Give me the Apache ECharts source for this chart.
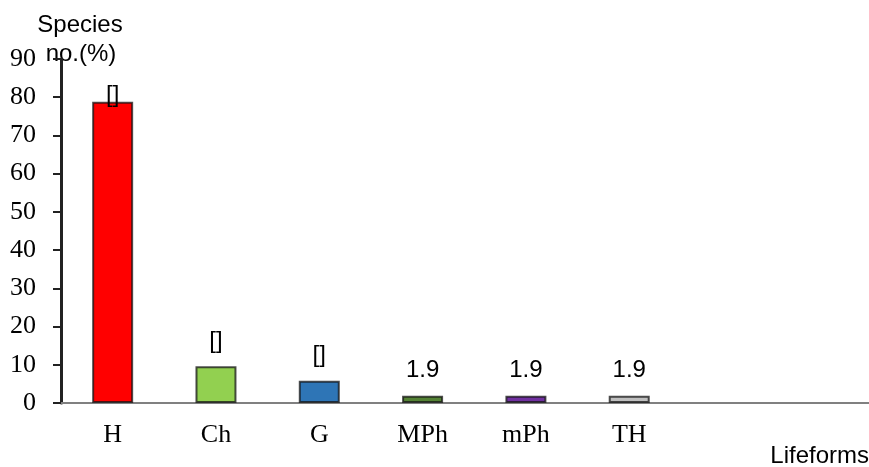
<!DOCTYPE html>
<html>
<head>
<meta charset="utf-8">
<script src="https://cdn.jsdelivr.net/npm/echarts@6/dist/echarts.min.js"></script>
<style>
  html, body { margin: 0; padding: 0; background: #fff; }
  #chart { width: 869px; height: 467px; }
</style>
</head>
<body>
<div id="chart"></div>
<script>
// Life-form spectrum: share of species per Raunkiaer class
const categories = ['H', 'Ch', 'G', 'MPh', 'mPh', 'TH', '', ''];
const shares = [78.8, 9.6, 5.8, 1.9, 1.9, 1.9, null, null];
const barLabels = ['[]', '[]', '[]', '1.9', '1.9', '1.9', '', ''];
const barColors = ['#ff0000', '#92d050', '#2e75b6', '#548235', '#7030a0', '#bfbfbf', '#fff', '#fff'];
const yTicks = [0, 10, 20, 30, 40, 50, 60, 70, 80, 90];

const chart = echarts.init(document.getElementById('chart'));

const seriesData = shares.map((v, i) => {
  const item = {
    value: v,
    itemStyle: { color: barColors[i] },
    label: { formatter: barLabels[i] }
  };
  if (i === 0) item.label.offset = [0, 19];
  return item;
});

const serif = '"Liberation Serif", "Times New Roman", serif';
const sans = '"Liberation Sans", Arial, sans-serif';

chart.setOption({
  animation: false,
  backgroundColor: '#fff',
  grid: { left: 61, top: 59, width: 826.5, height: 344, outerBoundsMode: 'none' },
  xAxis: {
    type: 'category',
    data: categories,
    axisLine: { lineStyle: { color: '#808080', width: 2 } },
    axisTick: { length: 7, lineStyle: { color: '#333', width: 1 } },
    axisLabel: {
      margin: 19,
      color: '#000',
      fontFamily: serif,
      fontSize: 26
    },
    splitLine: { show: false }
  },
  yAxis: {
    type: 'value',
    min: yTicks[0],
    max: yTicks[yTicks.length - 1],
    interval: 10,
    axisLine: { show: true, lineStyle: { color: '#222', width: 3 } },
    axisTick: { show: true, length: 8, lineStyle: { color: '#222', width: 2 } },
    axisLabel: {
      margin: 25,
      color: '#000',
      fontFamily: serif,
      fontSize: 26
    },
    splitLine: { show: false }
  },
  series: [{
    type: 'bar',
    data: seriesData,
    barWidth: 41,
    itemStyle: { borderColor: 'rgba(20,20,20,0.75)', borderWidth: 2 },
    label: {
      show: true,
      position: 'top',
      distance: 13,
      color: '#000',
      fontFamily: sans,
      fontSize: 24
    }
  }],
  graphic: [
    {
      type: 'text',
      x: 80, y: 13,
      style: {
        text: 'Species',
        align: 'center',
        verticalAlign: 'top',
        fill: '#000',
        font: '24px ' + sans
      }
    },
    {
      type: 'text',
      x: 81, y: 42,
      style: {
        text: 'no.(%)',
        align: 'center',
        verticalAlign: 'top',
        fill: '#000',
        font: '24px ' + sans
      }
    },
    {
      type: 'text',
      right: 0, top: 444,
      style: {
        text: 'Lifeforms',
        fill: '#000',
        font: '24px ' + sans
      }
    }
  ]
});
</script>
</body>
</html>
